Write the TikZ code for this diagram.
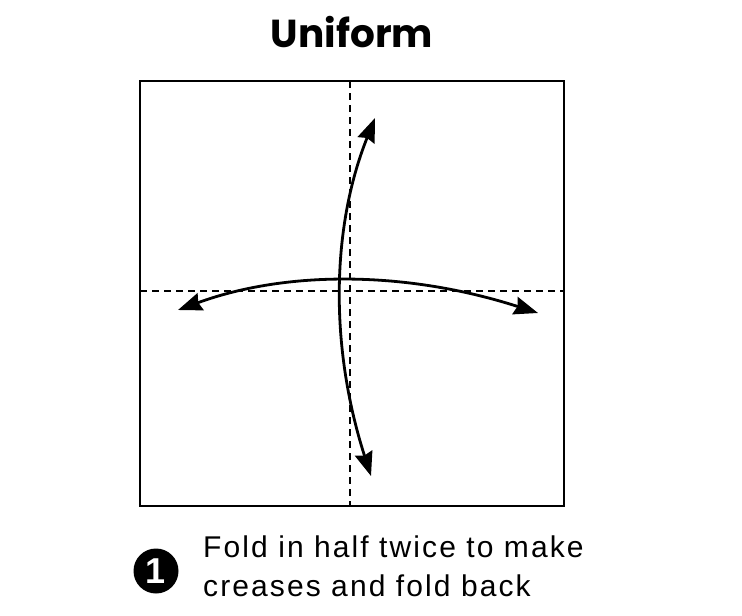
\documentclass[tikz,border=0pt]{standalone}
\usepackage{fontspec}
\setmainfont{Liberation Sans}
\newfontfamily\titlefont{Poppins}
\newfontfamily\capfont[LetterSpace=7]{Liberation Sans}
\usetikzlibrary{arrows.meta}
\tikzset{
  crease/.style={line width=1.5pt, dash pattern=on 7pt off 5pt},
  foldtip/.tip={Stealth[length=24pt,width=18pt,inset=2.5pt]},
  foldarrow/.style={line width=2.8pt, arrows={foldtip-foldtip}},
  paper/.style={draw, line width=1.6pt},
}
\begin{document}
\begin{tikzpicture}[x=1pt,y=-1pt]
\useasboundingbox (0,0) rectangle (742,616);
% title
\node[font=\titlefont\bfseries\fontsize{39}{46}\selectfont, anchor=base, inner sep=0] (title) at (352,47) {Uniform};
% paper
\draw[paper] (140,81) rectangle (564,506);
\coordinate (vt) at (350,81); \coordinate (vb) at (350,506);
\coordinate (hl) at (140,291); \coordinate (hr) at (564,291);
\draw[crease] (vt) -- (vb);
\draw[crease] (hl) -- (hr);
% fold arrows
\coordinate (bt) at (371,476); \coordinate (tt) at (375,118);
\coordinate (lt) at (178,310); \coordinate (rt) at (538,313);
\draw[foldarrow] (bt) .. controls (329.7,347.3) and (331,228) .. (tt);
\draw[foldarrow] (lt) .. controls (287.3,270) and (407.3,271) .. (rt);
% caption
\node[circle, fill=black, minimum size=45pt, inner sep=0, text=white, font=\bfseries\fontsize{36}{38}\selectfont] (num) at (156,571) {1};
\node[anchor=base west, inner sep=0, font=\capfont\fontsize{30}{34}\selectfont] (cap1) at (203,557) {Fold in half twice to make};
\node[anchor=base west, inner sep=0, font=\capfont\fontsize{30}{34}\selectfont] (cap2) at (203,596) {creases and fold back};
\end{tikzpicture}
\end{document}
